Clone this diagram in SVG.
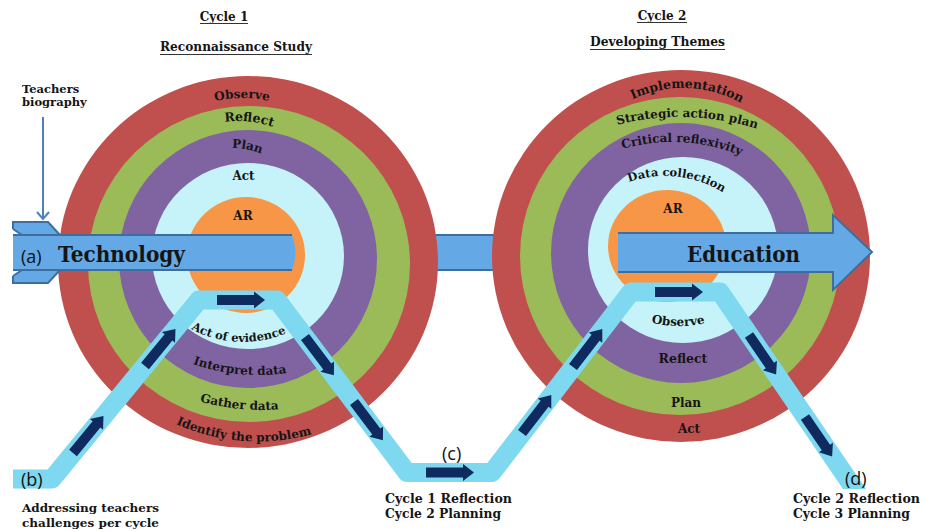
<svg xmlns="http://www.w3.org/2000/svg" width="927" height="531" viewBox="0 0 927 531">
<style>
.t{font-family:"DejaVu Serif","Liberation Serif",serif;font-weight:bold;fill:#151515}
.s{font-family:"Open Sans","Liberation Sans",sans-serif;fill:#111}
.red{fill:#c0504d}.grn{fill:#9bbb59}.pur{fill:#8064a2}.cyn{fill:#c6f3f9}.org{fill:#f79646}
.band{fill:#64a9e6}
.edge{stroke:#3f6e9c;stroke-width:2;fill:none}
.zig{fill:none;stroke:#7ed8ef;stroke-width:19;stroke-linejoin:round}
.nav{fill:#0e2a5e}
.ul{stroke:#333;stroke-width:1}
</style>
<defs>
<path id="nav" d="M0,-5 H37 V-8.5 L48,0 L37,8.5 V5 H0 Z"/>
<clipPath id="zclip"><rect x="0" y="0" width="927" height="489"/></clipPath>
<path id="p-obs1" d="M122,218 A120,120 0 0 1 362,218"/>
<path id="p-ref1" d="M128,231 A110,110 0 0 1 348,231"/>
<path id="p-plan1" d="M152,228 A80,80 0 0 1 312,228"/>
<path id="p-aoe" d="M133,232 A110,110 0 0 0 353,232"/>
<path id="p-int" d="M58,175 A200,200 0 0 0 458,175"/>
<path id="p-gat" d="M32,180 A230,230 0 0 0 492,180"/>
<path id="p-idp" d="M58,241.5 A200,200 0 0 0 458,241.5"/>
<path id="p-imp" d="M563,208 A120,120 0 0 1 803,208"/>
<path id="p-sap" d="M420,377 A260,260 0 0 1 940,377"/>
<path id="p-crf" d="M492,322 A180,180 0 0 1 852,322"/>
<path id="p-dc" d="M555,286 A110,110 0 0 1 775,286"/>
<path id="p-obs2" d="M560,206 A120,120 0 0 0 800,206"/>
</defs>

<g id="titles">
<text class="t" x="224" y="21" font-size="12" text-anchor="middle">Cycle 1</text>
<line class="ul" x1="200" y1="23.5" x2="248" y2="23.5"/>
<text class="t" x="236" y="51" font-size="12.5" text-anchor="middle" textLength="152" lengthAdjust="spacingAndGlyphs">Reconnaissance Study</text>
<line class="ul" x1="160" y1="54.5" x2="312" y2="54.5"/>
<text class="t" x="662" y="20" font-size="12" text-anchor="middle">Cycle 2</text>
<line class="ul" x1="637" y1="22.5" x2="687" y2="22.5"/>
<text class="t" x="657.5" y="46" font-size="12" text-anchor="middle" textLength="135" lengthAdjust="spacingAndGlyphs">Developing Themes</text>
<line class="ul" x1="590" y1="49.5" x2="725" y2="49.5"/>
</g>

<g id="band-middle">
<rect class="band" x="420" y="235" width="90" height="35"/>
<line class="edge" x1="420" y1="235" x2="510" y2="235"/>
<line class="edge" x1="420" y1="270" x2="510" y2="270"/>
</g>

<g id="cycle1">
<ellipse class="red" cx="248" cy="262" rx="190" ry="186"/>
<ellipse class="grn" cx="249" cy="264" rx="161" ry="158"/>
<ellipse class="pur" cx="248" cy="259" rx="129" ry="129"/>
<ellipse class="cyn" cx="248" cy="256" rx="96" ry="93"/>
<ellipse class="org" cx="246" cy="255" rx="59" ry="58"/>
<text class="t" font-size="12"><textPath href="#p-obs1" startOffset="50%" text-anchor="middle">Observe</textPath></text>
<text class="t" font-size="12.5"><textPath href="#p-ref1" startOffset="53.2%" text-anchor="middle">Reflect</textPath></text>
<text class="t" font-size="12"><textPath href="#p-plan1" startOffset="56%" text-anchor="middle">Plan</textPath></text>
<text class="t" x="243.5" y="180" font-size="12" text-anchor="middle">Act</text>
<text class="t" x="243" y="220" font-size="12" text-anchor="middle">AR</text>
<text class="t" font-size="11.5"><textPath href="#p-aoe" startOffset="48.6%" text-anchor="middle">Act of evidence</textPath></text>
<text class="t" font-size="12"><textPath href="#p-int" startOffset="47%" text-anchor="middle">Interpret data</textPath></text>
<text class="t" font-size="12"><textPath href="#p-gat" startOffset="46.8%" text-anchor="middle">Gather data</textPath></text>
<text class="t" font-size="12"><textPath href="#p-idp" startOffset="47.6%" text-anchor="middle">Identify the problem</textPath></text>
</g>

<g id="cycle2">
<ellipse class="red" cx="681" cy="256" rx="189" ry="186"/>
<ellipse class="grn" cx="680" cy="256" rx="160" ry="159"/>
<ellipse class="pur" cx="681" cy="253" rx="130" ry="130"/>
<ellipse class="cyn" cx="683" cy="250" rx="95" ry="93"/>
<ellipse class="org" cx="667" cy="246" rx="59" ry="56"/>
<text class="t" font-size="12.5"><textPath href="#p-imp" startOffset="51.1%" text-anchor="middle">Implementation</textPath></text>
<text class="t" font-size="12"><textPath href="#p-sap" startOffset="50.9%" text-anchor="middle">Strategic action plan</textPath></text>
<text class="t" font-size="12"><textPath href="#p-crf" startOffset="51.8%" text-anchor="middle">Critical reflexivity</textPath></text>
<text class="t" font-size="11.5"><textPath href="#p-dc" startOffset="53.5%" text-anchor="middle">Data collection</textPath></text>
<text class="t" x="673" y="213" font-size="12" text-anchor="middle">AR</text>
<text class="t" font-size="12"><textPath href="#p-obs2" startOffset="49.5%" text-anchor="middle">Observe</textPath></text>
<text class="t" x="683" y="363" font-size="12.5" text-anchor="middle">Reflect</text>
<text class="t" x="686" y="407" font-size="12" text-anchor="middle">Plan</text>
<text class="t" x="689" y="433" font-size="12" text-anchor="middle">Act</text>
</g>

<g id="technology">
<polygon class="band" points="13,222 48,222 60,235 22,235 13,229"/>
<polyline class="edge" points="13,229 13,222 48,222 60,235"/>
<line class="edge" x1="13" y1="229" x2="22" y2="235"/>
<polygon class="band" points="13,283 48,283 60,270 22,270 13,276"/>
<polyline class="edge" points="13,276 13,283 48,283 60,270"/>
<line class="edge" x1="13" y1="276" x2="22" y2="270"/>
<path class="band" d="M13,235 H292 Q299,252.5 292,270 H13 Z"/>
<line class="edge" x1="13" y1="235" x2="292" y2="235"/>
<line class="edge" x1="13" y1="270" x2="292" y2="270"/>
<text class="s" x="21" y="263" font-size="18">(a)</text>
<text class="t" x="58" y="262" font-size="22" textLength="127" lengthAdjust="spacingAndGlyphs">Technology</text>
</g>

<g id="education">
<polygon class="band" points="618,233 833,233 833,215 872,252 833,290 833,272 618,272"/>
<polyline class="edge" points="618,233 833,233 833,215 872,252 833,290 833,272 618,272"/>
<text class="t" x="687" y="262" font-size="22" textLength="113" lengthAdjust="spacingAndGlyphs">Education</text>
</g>

<g id="teachers-biography">
<text class="t" x="22" y="93" font-size="11.5">Teachers</text>
<text class="t" x="22" y="106" font-size="11.5">biography</text>
</g>

<g id="connectors">
<line x1="43" y1="117" x2="43" y2="219" stroke="#4f81bd" stroke-width="2"/>
<polyline points="37,212 43,219 49,212" fill="none" stroke="#4f81bd" stroke-width="2"/>
<polyline class="zig" clip-path="url(#zclip)" points="13,479 52,479 199,300 277,300 407,472.5 492,472.5 631,292 720,292 862,500"/>
<use href="#nav" class="nav" transform="translate(73,453) rotate(-50.6)"/>
<use href="#nav" class="nav" transform="translate(145,366) rotate(-50.6)"/>
<use href="#nav" class="nav" transform="translate(217,300)"/>
<use href="#nav" class="nav" transform="translate(305,337) rotate(53)"/>
<use href="#nav" class="nav" transform="translate(354,402) rotate(53)"/>
<use href="#nav" class="nav" transform="translate(426,472.5)"/>
<use href="#nav" class="nav" transform="translate(522,433) rotate(-52.4)"/>
<use href="#nav" class="nav" transform="translate(573,367) rotate(-52.4)"/>
<use href="#nav" class="nav" transform="translate(655,292)"/>
<use href="#nav" class="nav" transform="translate(749,335) rotate(55.6)"/>
<use href="#nav" class="nav" transform="translate(805,417) rotate(55.6)"/>
</g>

<g id="label-b">
<text class="s" x="21" y="486" font-size="18">(b)</text>
<text class="t" x="22" y="512" font-size="11.5" textLength="137" lengthAdjust="spacingAndGlyphs">Addressing teachers</text>
<text class="t" x="22" y="527" font-size="11.5" textLength="137" lengthAdjust="spacingAndGlyphs">challenges per cycle</text>
</g>
<g id="label-c">
<text class="s" x="442" y="460" font-size="18">(c)</text>
<text class="t" x="385" y="503" font-size="12" textLength="127" lengthAdjust="spacingAndGlyphs">Cycle 1 Reflection</text>
<text class="t" x="385" y="518" font-size="12" textLength="116" lengthAdjust="spacingAndGlyphs">Cycle 2 Planning</text>
</g>
<g id="label-d">
<text class="s" x="845" y="485" font-size="18">(d)</text>
<text class="t" x="793" y="503" font-size="12" textLength="127" lengthAdjust="spacingAndGlyphs">Cycle 2 Reflection</text>
<text class="t" x="793" y="518" font-size="12" textLength="117" lengthAdjust="spacingAndGlyphs">Cycle 3 Planning</text>
</g>
</svg>
